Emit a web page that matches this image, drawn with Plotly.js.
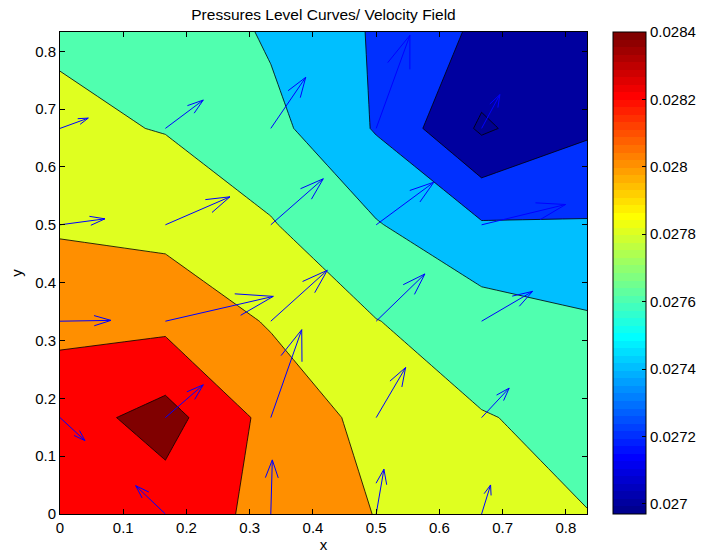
<!DOCTYPE html>
<html><head><meta charset="utf-8">
<script src="https://cdn.plot.ly/plotly-3.0.1.min.js"></script>
<style>html,body{margin:0;padding:0;background:#fff}#chart{width:701px;height:554px}</style>
</head><body><div id="chart"></div>
<script>
// Grid coordinates
const gridX = [0, 0.16667, 0.33333, 0.5, 0.66667, 0.83333];
const gridY = [0, 0.16667, 0.33333, 0.5, 0.66667, 0.83333];
// Pressure at (gridX[i], gridY[j]) -> pressure[j][i]
const pressure = [
  [0.02828,  0.028304, 0.028148, 0.027994, 0.02788,  0.027803],
  [0.028312, 0.028476, 0.028136, 0.027934, 0.027809, 0.027754],
  [0.028152, 0.028148, 0.027982, 0.027805, 0.0277,   0.027623],
  [0.027974, 0.027936, 0.027814, 0.027614, 0.02742,  0.027416],
  [0.027838, 0.027791, 0.02766,  0.027384, 0.026968, 0.02717],
  [0.027774, 0.02777,  0.02757,  0.02738,  0.02716,  0.02712]
];
// Contour levels
const levels = [0.0270, 0.0272, 0.0274, 0.0276, 0.0278, 0.0280, 0.0282, 0.0284];
// Colour axis limits
const colorRange = [0.02697, 0.0284];
const cbTickVals = [0.0270, 0.0272, 0.0274, 0.0276, 0.0278, 0.0280, 0.0282, 0.0284];
const cbTickText = ['0.027', '0.0272', '0.0274', '0.0276', '0.0278', '0.028', '0.0282', '0.0284'];
const axisTicks = [0, 0.1, 0.2, 0.3, 0.4, 0.5, 0.6, 0.7, 0.8];
// Velocity field (arrow tails and components)
const quiverX = [0.16667, 0.33333, 0.5, 0.66667,
                 0, 0.16667, 0.33333, 0.5, 0.66667,
                 0, 0.16667, 0.33333, 0.5, 0.66667,
                 0, 0.16667, 0.33333, 0.5, 0.66667,
                 0, 0.16667, 0.33333, 0.5, 0.66667];
const quiverY = [0, 0, 0, 0,
                 0.16667, 0.16667, 0.16667, 0.16667, 0.16667,
                 0.33333, 0.33333, 0.33333, 0.33333, 0.33333,
                 0.5, 0.5, 0.5, 0.5, 0.5,
                 0.66667, 0.66667, 0.66667, 0.66667, 0.66667];
const quiverU = [-0.0470, 0.0024, 0.0122, 0.0142,
                 0.0395, 0.0599, 0.0489, 0.0465, 0.0436,
                 0.0806, 0.1706, 0.0893, 0.0770, 0.0806,
                 0.0711, 0.1021, 0.0830, 0.0912, 0.1328,
                 0.0447, 0.0599, 0.0552, 0.0533, 0.0289];
const quiverV = [0.0490, 0.0935, 0.0774, 0.0502,
                 -0.0398, 0.0567, 0.1520, 0.0866, 0.0510,
                 0.0014, 0.0429, 0.0880, 0.0817, 0.0516,
                 0.0103, 0.0484, 0.0796, 0.0737, 0.0351,
                 0.0178, 0.0490, 0.0883, 0.1610, 0.0584];

// MATLAB jet(64) colormap
function jetMap(m) {
  const n = Math.ceil(m / 4);
  const u = [];
  for (let i = 1; i <= n; i++) u.push(i / n);
  for (let i = 0; i < n - 1; i++) u.push(1);
  for (let i = n; i >= 1; i--) u.push(i / n);
  const gOff = Math.ceil(n / 2) - (m % 4 === 1 ? 1 : 0);
  const R = new Array(m).fill(0), G = new Array(m).fill(0), B = new Array(m).fill(0);
  for (let k = 0; k < u.length; k++) {
    const g = gOff + k + 1, r = g + n, b = g - n;
    if (g >= 1 && g <= m) G[g - 1] = u[k];
    if (r >= 1 && r <= m) R[r - 1] = u[k];
    if (b >= 1 && b <= m) B[b - 1] = u[k];
  }
  const out = [];
  for (let i = 0; i < m; i++) out.push('rgb(' + Math.round(R[i] * 255) + ',' + Math.round(G[i] * 255) + ',' + Math.round(B[i] * 255) + ')');
  return out;
}
const jet = jetMap(64);
function colorOf(val) {
  let idx = Math.floor((val - colorRange[0]) / (colorRange[1] - colorRange[0]) * jet.length);
  idx = Math.max(0, Math.min(jet.length - 1, idx));
  return jet[idx];
}
// Step colorscale for colorbar
const barScale = [];
for (let i = 0; i < jet.length; i++) {
  barScale.push([i / jet.length, jet[i]]);
  barScale.push([(i + 1) / jet.length, jet[i]]);
}
// Fill colorscale for contour bands: background + one colour per level
const nLev = levels.length;
const fillScale = [[0, colorOf(colorRange[0])]];
for (let k = 0; k < nLev; k++) fillScale.push([(k + 1) / nLev, colorOf(levels[k])]);

// Arrow geometry (MATLAB quiver style)
const alpha = 0.33, beta = 0.33;
const ax = [], ay = [];
for (let k = 0; k < quiverX.length; k++) {
  const x0 = quiverX[k], y0 = quiverY[k], u = quiverU[k], v = quiverV[k];
  const x1 = x0 + u, y1 = y0 + v;
  ax.push(x0, x1, null, x1 - alpha * (u + beta * v), x1, x1 - alpha * (u - beta * v), null);
  ay.push(y0, y1, null, y1 - alpha * (v - beta * u), y1, y1 - alpha * (v + beta * u), null);
}

const step = levels[1] - levels[0];
const traces = [
  {
    type: 'contour', x: gridX, y: gridY, z: pressure,
    autocontour: false,
    contours: {start: levels[0], end: levels[nLev - 1] + step * 0.05, size: step, coloring: 'fill', showlines: true},
    line: {color: 'black', width: 0.8, smoothing: 0},
    colorscale: fillScale, showscale: false, hoverinfo: 'skip'
  },
  {
    type: 'scatter', mode: 'lines', x: ax, y: ay,
    line: {color: 'rgb(0,0,255)', width: 1},
    hoverinfo: 'skip', showlegend: false, cliponaxis: true
  },
  {
    type: 'scatter', mode: 'markers', x: [null, null], y: [null, null],
    marker: {
      color: colorRange, cmin: colorRange[0], cmax: colorRange[1], colorscale: barScale,
      showscale: true, size: 1, opacity: 0,
      colorbar: {
        x: 613 / 701, xanchor: 'left', xref: 'container', xpad: 0,
        y: 0.5, yanchor: 'middle', len: 1, lenmode: 'fraction', ypad: 0,
        thickness: 33, thicknessmode: 'pixels',
        outlinewidth: 1, outlinecolor: 'black',
        tickmode: 'array', tickvals: cbTickVals, ticktext: cbTickText,
        ticks: 'inside', ticklen: 4, tickcolor: 'black', tickwidth: 1,
        tickfont: {size: 15, color: 'black'}
      }
    },
    hoverinfo: 'skip', showlegend: false
  }
];

const axisCommon = {
  tickmode: 'array', tickvals: axisTicks,
  ticks: 'inside', ticklen: 5, tickwidth: 1, tickcolor: 'black',
  showline: true, linecolor: 'black', linewidth: 1, mirror: 'allticks',
  showgrid: false, zeroline: false,
  tickfont: {size: 15, color: 'black'}
};

const layout = {
  width: 701, height: 554,
  margin: {l: 60, r: 114, t: 32, b: 40, pad: 0},
  paper_bgcolor: 'white', plot_bgcolor: 'white',
  font: {family: 'Liberation Sans, Arial, Helvetica, sans-serif', size: 15, color: 'black'},
  title: {text: 'Pressures Level Curves/ Velocity Field', x: 0.5, xref: 'paper', xanchor: 'center',
          y: 1 - 14.5 / 554, yref: 'container', yanchor: 'middle', font: {size: 15.5, color: 'black'}},
  xaxis: Object.assign({}, axisCommon, {range: [gridX[0], gridX[5]], title: {text: 'x', standoff: 4, font: {size: 15}}}),
  yaxis: Object.assign({}, axisCommon, {range: [gridY[0], gridY[5]], title: {text: 'y', standoff: 8, font: {size: 15}}}),
  showlegend: false
};

Plotly.newPlot('chart', traces, layout, {displayModeBar: false, staticPlot: true});
</script>
</body></html>
